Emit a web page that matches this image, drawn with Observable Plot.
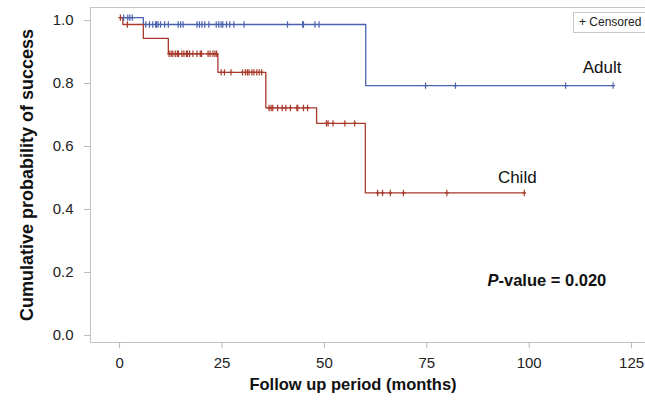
<!DOCTYPE html>
<html><head><meta charset="utf-8">
<script src="https://cdn.jsdelivr.net/npm/d3@7"></script>
<script src="https://cdn.jsdelivr.net/npm/@observablehq/plot@0.6"></script>
<style>
body{margin:0;background:#fff;font-family:"Liberation Sans",Arial,sans-serif}
#wrap{position:relative;width:645px;height:406px;overflow:hidden}
#legend{position:absolute;left:573px;top:12px;width:80px;height:21px;border:1px solid #c8c8c8;background:#fff;font-size:12px;line-height:19px;padding-left:5px;box-sizing:border-box;color:#222;z-index:2}
</style></head><body>
<div id="wrap"><div id="legend">+ Censored</div></div>
<script>
const groups = ["Adult", "Child"];
const groupColors = ["#4a62ad", "#a8392b"];
const adultEventTimes = [0, 5.8, 60.1, 120.5];
const adultSurvival = [1.0, 0.978, 0.784, 0.784];
const childEventTimes = [0, 0.8, 5.8, 11.9, 24.0, 35.7, 48.1, 60.0, 98.8];
const childSurvival = [1.0, 0.978, 0.934, 0.885, 0.826, 0.713, 0.664, 0.443, 0.443];
const adultCensorTimes = [1.0, 2.0, 2.5, 3.1, 6.4, 7.3, 8.1, 8.8, 9.0, 9.4, 10.0, 11.0, 11.9, 14.3, 14.9, 15.5,
  18.9, 19.5, 20.1, 20.8, 21.8, 23.6, 24.2, 24.8, 25.2, 26.1, 26.9, 27.9, 30.4, 41.0, 44.7, 44.9, 47.7, 48.7,
  74.7, 82.0, 108.9, 120.5];
const childCensorTimes = [0.2, 1.9, 12.1, 12.6, 13.0, 13.6, 14.1, 14.4, 15.2, 15.7, 16.3, 16.6, 17.1, 17.9, 18.9,
  19.7, 20.0, 21.6, 22.1, 22.8, 23.3, 23.7, 24.8, 25.6, 27.2, 30.0, 30.7, 31.2, 31.6, 32.3, 32.8, 33.5, 34.1, 34.7,
  36.5, 37.0, 37.4, 38.6, 39.7, 40.6, 41.7, 43.3, 43.5, 44.9, 45.9, 50.5, 50.9, 52.1, 55.0, 57.4,
  63.0, 64.2, 66.1, 69.3, 79.9, 98.8];
const xTicks = [0, 25, 50, 75, 100, 125];
const yTicks = [0, 0.2, 0.4, 0.6, 0.8, 1.0];
const xTitle = "Follow up period (months)";
const yTitle = "Cumulative probability of success";
const pValueText = "P-value = 0.020";

const survAt = (times, surv, t) => { let v = surv[0]; for (let i = 0; i < times.length; i++) if (times[i] <= t) v = surv[i]; return v; };
const series = {
  Adult: {times: adultEventTimes, surv: adultSurvival, cens: adultCensorTimes},
  Child: {times: childEventTimes, surv: childSurvival, cens: childCensorTimes}
};
const curve = [], censors = [], ends = [];
for (const g of groups) {
  const s = series[g];
  s.times.forEach((t, i) => curve.push({group: g, t, s: s.surv[i]}));
  s.cens.forEach(t => censors.push({group: g, t, s: survAt(s.times, s.surv, t)}));
  ends.push({group: g, t: s.times[s.times.length - 1], s: s.surv[s.surv.length - 1]});
}
const censorSymbol = {
  draw(ctx, size) {
    const h = Math.sqrt(size / Math.PI);
    ctx.moveTo(0, -h); ctx.lineTo(0, h);
    ctx.moveTo(-h * 0.6, 0); ctx.lineTo(h * 0.6, 0);
  }
};
const labelOffsets = {Adult: [-11, -18], Child: [-7, -15]};

const chart = Plot.plot({
  width: 645, height: 406,
  marginLeft: 90, marginTop: 7, marginRight: 0, marginBottom: 64,
  style: {fontFamily: "Liberation Sans, Arial, sans-serif", background: "#fff"},
  x: {domain: [-7.1, 128.4]},
  y: {domain: [-0.032, 1.032]},
  color: {domain: groups, range: groupColors},
  marks: [
    Plot.frame({anchor: "left", stroke: "#c4c4c4"}),
    Plot.frame({anchor: "top", stroke: "#c4c4c4"}),
    Plot.frame({anchor: "bottom", stroke: "#c4c4c4"}),
    Plot.axisX({ticks: xTicks, tickSize: 6, tickPadding: 9, fontSize: 15, stroke: "#b8b8b8", fill: "#222", label: null}),
    Plot.axisY({ticks: yTicks, tickFormat: d3.format(".1f"), tickSize: 6, tickPadding: 11, dy: 3, fontSize: 15, stroke: "#b8b8b8", fill: "#222", label: null}),
    Plot.line(curve, {x: "t", y: "s", z: "group", stroke: "group", curve: "step-after", strokeWidth: 1.3}),
    Plot.dot(censors, {x: "t", y: "s", stroke: "group", symbol: censorSymbol, r: 3.2, strokeWidth: 1.2, fill: "none"}),
    ...ends.map(e => Plot.text([e], {x: "t", y: "s", text: "group", dx: labelOffsets[e.group][0], dy: labelOffsets[e.group][1], fontSize: 17, fill: "#111"})),
    Plot.text([pValueText], {frameAnchor: "bottom-right", text: d => d, dx: -158, dy: -57, textAnchor: "start", fontSize: 16.5, fontWeight: "bold", fill: "#111"}),
    Plot.text([xTitle], {frameAnchor: "bottom", text: d => d, dx: -15, dy: 47, fontSize: 16.5, fontWeight: "bold", fill: "#111"}),
    Plot.text([yTitle], {frameAnchor: "left", text: d => d, dx: -63, rotate: -90, textAnchor: "middle", fontSize: 18, fontWeight: "bold", fill: "#111"})
  ]
});
d3.select(chart).selectAll("text").filter(function() { return this.textContent === pValueText; })
  .each(function() { this.innerHTML = '<tspan font-style="italic">P</tspan>-value = 0.020'; });
document.getElementById("wrap").prepend(chart);
</script>
</body></html>
